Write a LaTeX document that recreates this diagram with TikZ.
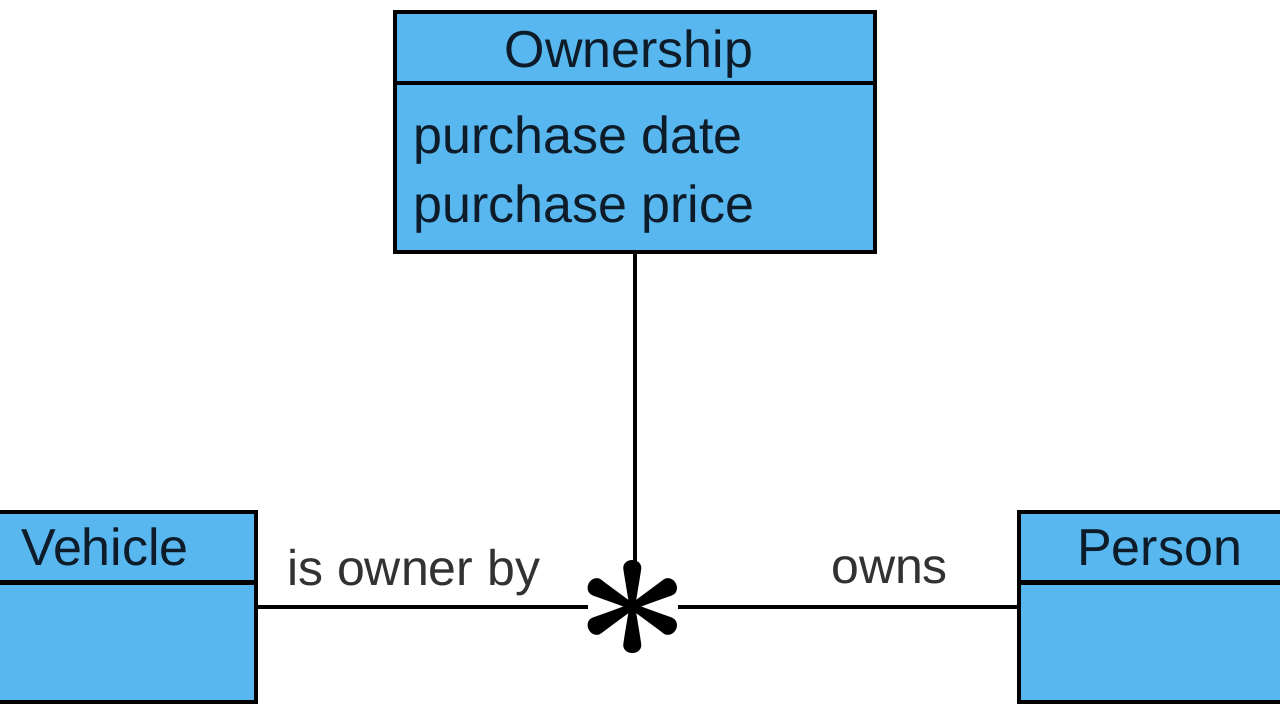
\documentclass[tikz,border=0pt]{standalone}
\usepackage{fontspec}
\setmainfont{Liberation Sans}
\definecolor{classfill}{RGB}{87,183,238}
\definecolor{txtdark}{RGB}{14,28,42}
\definecolor{lbl}{RGB}{50,50,50}
\begin{document}
\begin{tikzpicture}[x=1pt,y=-1pt,
  classbox/.style={draw=black, line width=4pt, fill=classfill, inner sep=0pt, rectangle},
  divider/.style={line width=4.5pt},
  conn/.style={line width=3.5pt},
  ctext/.style={inner sep=0pt, font=\fontsize{52}{60}\selectfont, text=txtdark},
  ltext/.style={inner sep=0pt, font=\fontsize{50}{60}\selectfont, text=lbl},
  starnode/.style={rectangle, inner sep=0pt, outer sep=0pt, minimum width=90pt, minimum height=90pt}
]
\useasboundingbox[fill=white] (0,0) rectangle (1280,720);

% classes
\node[classbox, minimum width=480pt, minimum height=240pt] (own) at (635,132) {};
\draw[divider] (own.west |- 0,83) -- (own.east |- 0,83);
\node[ctext, anchor=base] (ownT) at (629,67) {Ownership};
\node[ctext, anchor=base west] (attr1) at (413,153) {purchase date};
\node[ctext, anchor=base west] (attr2) at (413,222) {purchase price};

\node[classbox, minimum width=285.5pt, minimum height=190pt] (veh) at (112.75,607) {};
\draw[divider] (veh.west |- 0,582.5) -- (veh.east |- 0,582.5);
\node[ctext, anchor=base west] (vehT) at (21,565) {Vehicle};

\node[classbox, minimum width=291pt, minimum height=190pt] (per) at (1164.5,607) {};
\draw[divider] (per.west |- 0,582.5) -- (per.east |- 0,582.5);
\node[ctext, anchor=base west] (perT) at (1077,565) {Person};

% association
\node[starnode] (star) at (633,607) {\makebox[0pt]{\smash{\scalebox{21}{\raisebox{-2.5pt}{\boldmath$\ast$}}}}};
\draw[conn] (own.south) -- (own.south |- star.north);
\draw[conn] (veh.east |- star.west) -- (star.west);
\draw[conn] (star.east) -- (per.west |- star.east);

\node[ltext, anchor=base west] (l1) at (287,585) {is owner by};
\node[ltext, anchor=base west] (l2) at (831,583) {owns};
\end{tikzpicture}
\end{document}
